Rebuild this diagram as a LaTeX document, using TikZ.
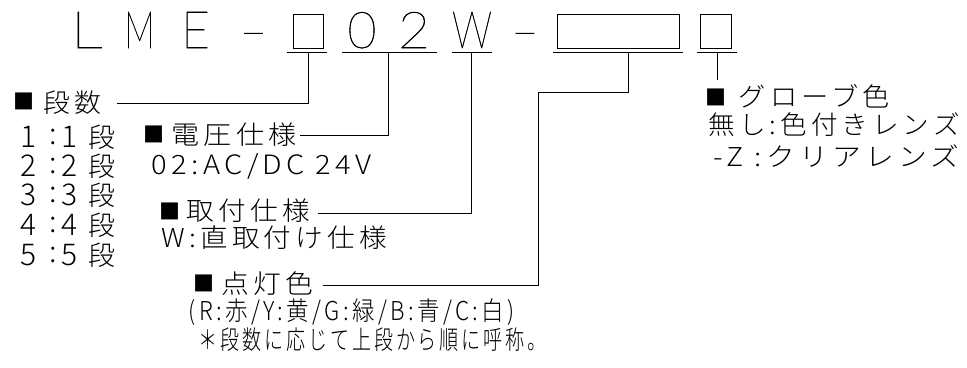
\documentclass[tikz,border=0pt]{standalone}
\usepackage{graphicx}
\usepackage{fontspec}
\IfFontExistsTF{Noto Sans CJK JP Light}
  {\newfontfamily\jp{Noto Sans CJK JP Light}[LetterSpace=15]\newfontfamily\jpn{Noto Sans CJK JP Light}}
  {\newfontfamily\jp{Noto Sans CJK JP}[LetterSpace=15]\newfontfamily\jpn{Noto Sans CJK JP}}
\IfFontExistsTF{Lato Thin}
  {\newfontfamily\codefont{Lato Thin}[FakeBold=1]}
  {\IfFontExistsTF{DejaVu Sans ExtraLight}
    {\newfontfamily\codefont{DejaVu Sans ExtraLight}}
    {\newfontfamily\codefont{Liberation Sans}}}
\newcommand\fitw[2]{\resizebox{#1}{\height}{#2}}
\newcommand\blacksq{\resizebox*{21pt}{17pt}{\jpn ■}}
\begin{document}
\begin{tikzpicture}[x=1pt,y=-1pt,
  conn/.style={line width=1pt},
  ph/.style={draw,line width=1pt,inner sep=0,minimum width=#1,minimum height=34pt},
  codechar/.style={inner sep=0,anchor=base,font={\codefont\fontsize{50pt}{60pt}\selectfont}},
  lbl/.style={inner sep=0,anchor=west,font={\jp\fontsize{26pt}{30pt}\selectfont}},
  blk/.style={inner sep=0},
  lnum/.style={inner sep=0,font={\jpn\fontsize{30pt}{32pt}\selectfont}},
  lkan/.style={inner sep=0,font={\jpn\fontsize{27pt}{30pt}\selectfont}}]
\useasboundingbox (0,0) rectangle (967,367);
% ---- model code ----
\node[codechar] (cL) at (86.5,48) {\resizebox{32pt}{36pt}{L}};
\node[codechar] (cM) at (139.5,48) {\resizebox{30pt}{36pt}{M}};
\node[codechar] (cE) at (195.5,48) {\resizebox{29pt}{36pt}{E}};
\node[codechar] (cD1) at (253.5,48) {\resizebox{30pt}{\height}{-}};
\node[ph=30pt] (b1) at (308,31) {};
\node[codechar] (c0) at (362,48) {\resizebox{29pt}{36pt}{0}};
\node[codechar] (c2) at (414,48) {\resizebox{32pt}{36pt}{2}};
\node[codechar] (cW) at (472,48) {\resizebox{40pt}{36pt}{W}};
\node[codechar] (cD2) at (525,48) {\resizebox{30pt}{\height}{-}};
\node[ph=122pt] (b2) at (618,31) {};
\node[ph=31pt] (b3) at (715.5,31) {};
% underlines
\draw[conn] (287,52) -- (327,52);
\draw[conn] (342,52) -- (437,52);
\draw[conn] (452,52) -- (492,52);
\draw[conn] (553,52) -- (683,52);
\draw[conn] (697,52) -- (737,52);
\coordinate (u1) at (308,52);
\coordinate (u2) at (388,52);
\coordinate (u3) at (471,52);
\coordinate (u4) at (628,52);
\coordinate (u5) at (717,52);
% ---- labels ----
\node[blk] (q0) at (24.5,101.5) {\blacksq};
\node[lbl] (t0) at (43.5,103) {\fitw{58pt}{段数}};
\foreach \i/\y in {1/137,2/166,3/195,4/225,5/255}{
  \node[lnum] (ra\i) at (29,\y) {\i};
  \node[lnum] (rb\i) at (53,\y) {:};
  \node[lnum] (rc\i) at (70,\y) {\i};
  \node[lkan] (rd\i) at (101.5,\y) {段};
}
\node[blk] (q1) at (153.5,134) {\blacksq};
\node[lbl] (t1) at (171.5,135) {\fitw{125pt}{電圧仕様}};
\node[lbl] (d1) at (151.5,166) {\resizebox{220pt}{21pt}{02:AC/DC 24V}};
\node[blk] (q2) at (170,211) {\blacksq};
\node[lbl] (t2) at (186.5,211) {\fitw{123pt}{取付仕様}};
\node[lbl] (d2) at (161.5,237.5) {\fitw{225pt}{W:直取付け仕様}};
\node[blk] (q3) at (203.5,283.5) {\blacksq};
\node[lbl] (t3) at (221.5,284) {\fitw{92pt}{点灯色}};
\node[lbl] (d3) at (188.5,312.5) {\fitw{326pt}{(R:赤/Y:黄/G:緑/B:青/C:白)}};
\node[lbl] (d4) at (198.5,340) {\fitw{348pt}{＊段数に応じて上段から順に呼称。}};
\node[blk] (q4) at (716,97.5) {\blacksq};
\node[lbl] (t4) at (738.5,96.5) {\fitw{151pt}{グローブ色}};
\node[lbl] (d5) at (708.5,125) {\fitw{251pt}{無し:色付きレンズ}};
\node[lbl] (d6) at (713.5,156) {\fitw{246pt}{-Z :クリアレンズ}};
% ---- connector ends ----
\coordinate (e0) at (117,103);
\coordinate (e1) at (300,135);
\coordinate (e2) at (318,213);
\coordinate (k4) at (538,92);
\coordinate (e3) at (323,285);
\coordinate (e4) at (717,80);
\draw[conn] (u1) |- (e0);
\draw[conn] (u2) |- (e1);
\draw[conn] (u3) |- (e2);
\draw[conn] (u4) |- (k4) |- (e3);
\draw[conn] (u5) -- (e4);
\end{tikzpicture}
\end{document}
